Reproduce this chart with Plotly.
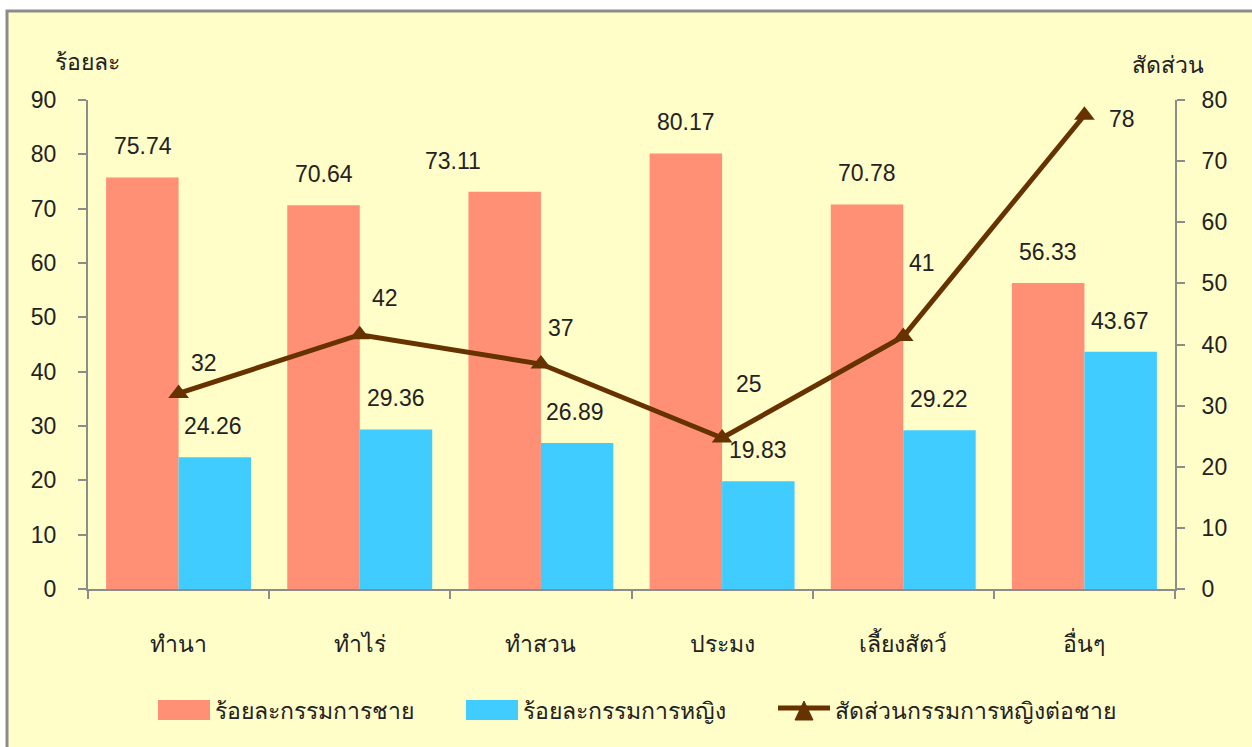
import plotly.graph_objects as go

categories = ["ทำนา", "ทำไร่", "ทำสวน", "ประมง", "เลี้ยงสัตว์", "อื่นๆ"]
male_pct = [75.74, 70.64, 73.11, 80.17, 70.78, 56.33]
female_pct = [24.26, 29.36, 26.89, 19.83, 29.22, 43.67]
ratio = [32.0, 41.6, 36.8, 24.7, 41.3, 77.5]
ratio_labels = ["32", "42", "37", "25", "41", "78"]

name_male = "ร้อยละกรรมการชาย"
name_female = "ร้อยละกรรมการหญิง"
name_ratio = "สัดส่วนกรรมการหญิงต่อชาย"

FONT = "'Liberation Sans', Arial, sans-serif"
C_MALE = "#FF8F75"
C_FEMALE = "#40CCFF"
C_LINE = "#663300"
TXT = "#222222"
GREY = "#8c8c8c"
FS = 23

W, H = 1252, 747
L, R, T, B = 88, 77, 100, 158
PW, PH = W - L - R, H - T - B


def px(x):
    return (x - L) / PW


def py(y):
    return (H - B - y) / PH


fig = go.Figure()
fig.add_trace(go.Bar(x=categories, y=male_pct, name=name_male, marker_color=C_MALE,
                     marker_line_width=0, yaxis="y"))
fig.add_trace(go.Bar(x=categories, y=female_pct, name=name_female, marker_color=C_FEMALE,
                     marker_line_width=0, yaxis="y"))
fig.add_trace(go.Scatter(x=categories, y=ratio, name=name_ratio, yaxis="y2",
                         mode="lines+markers",
                         line=dict(color=C_LINE, width=5),
                         marker=dict(symbol="triangle-up", size=18, color=C_LINE)))

# label offsets (pixels) - styling only
male_dx = [0, 0, -52, 0, 0, 0]
female_dx = [-2, 0, -2, 0, 0, 0]
ratio_dx = [25, 25, 20, 27, 19, 38]
ratio_dy = [30, 37, 36, 54, 74, -4]

font = dict(family=FONT, size=FS, color=TXT)
ann = []
for i, c in enumerate(categories):
    ann.append(dict(x=c, y=male_pct[i], xref="x", yref="y", text=f"{male_pct[i]:.2f}",
                    showarrow=False, xshift=-36 + male_dx[i], yshift=31, font=font))
    ann.append(dict(x=c, y=female_pct[i], xref="x", yref="y", text=f"{female_pct[i]:.2f}",
                    showarrow=False, xshift=36 + female_dx[i], yshift=31, font=font))
    ann.append(dict(x=c, y=ratio[i], xref="x", yref="y2", text=ratio_labels[i],
                    showarrow=False, xshift=ratio_dx[i], yshift=ratio_dy[i], font=font))

ann.append(dict(x=0, y=1, xref="paper", yref="paper", text="ร้อยละ", showarrow=False,
                xanchor="center", yanchor="middle", xshift=-1, yshift=38, font=font))
ann.append(dict(x=1, y=1, xref="paper", yref="paper", text="สัดส่วน", showarrow=False,
                xanchor="center", yanchor="middle", xshift=-7, yshift=35, font=font))

# manual legend
legend_items = [(158, name_male), (466, name_female), (778, name_ratio)]
ly = 711
for x0, txt in legend_items:
    ann.append(dict(x=px(x0 + 55), y=py(ly), xref="paper", yref="paper", text=txt,
                    showarrow=False, xanchor="left", yanchor="middle", font=font))

shapes = [dict(type="rect", xref="paper", yref="paper",
               x0=px(7), x1=px(1262), y0=py(760), y1=py(11),
               fillcolor="#FFFDC8", line=dict(color=GREY, width=3), layer="below")]
shapes.append(dict(type="rect", xref="paper", yref="paper", x0=px(158), x1=px(210),
                   y0=py(720), y1=py(700), fillcolor=C_MALE, line=dict(width=0)))
shapes.append(dict(type="rect", xref="paper", yref="paper", x0=px(466), x1=px(518),
                   y0=py(720), y1=py(700), fillcolor=C_FEMALE, line=dict(width=0)))
shapes.append(dict(type="line", xref="paper", yref="paper", x0=px(778), x1=px(830),
                   y0=py(708), y1=py(708), line=dict(color=C_LINE, width=5)))
tri = f"M {px(795)},{py(720)} L {px(813)},{py(720)} L {px(804)},{py(701)} Z"
shapes.append(dict(type="path", xref="paper", yref="paper", path=tri,
                   fillcolor=C_LINE, line=dict(color=C_LINE, width=1)))

fig.update_layout(
    width=W, height=H,
    margin=dict(l=L, r=R, t=T, b=B),
    paper_bgcolor="#FFFFFF",
    plot_bgcolor="#FFFFE8",
    barmode="group", bargap=0.2, bargroupgap=0,
    font=font,
    showlegend=False,
    xaxis=dict(showline=True, linecolor=GREY, linewidth=2, ticks="outside",
               tickson="boundaries", ticklen=8, tickcolor=GREY, tickwidth=2,
               ticklabelstandoff=33, showgrid=False, tickfont=font),
    yaxis=dict(range=[0, 90], dtick=10, showline=True, linecolor=GREY, linewidth=2,
               ticks="outside", ticklen=8, tickcolor=GREY, tickwidth=2,
               showgrid=False, zeroline=False, ticklabelstandoff=17, tickfont=font),
    yaxis2=dict(range=[0, 80], dtick=10, overlaying="y", side="right", showline=True,
                linecolor=GREY, linewidth=2, ticks="outside", ticklen=8,
                tickcolor=GREY, tickwidth=2, showgrid=False, zeroline=False,
                ticklabelstandoff=12, tickfont=font),
    annotations=ann,
    shapes=shapes,
)

fig.write_html("out.html", config={"displayModeBar": False},
               post_script="document.body.style.margin='0';")
